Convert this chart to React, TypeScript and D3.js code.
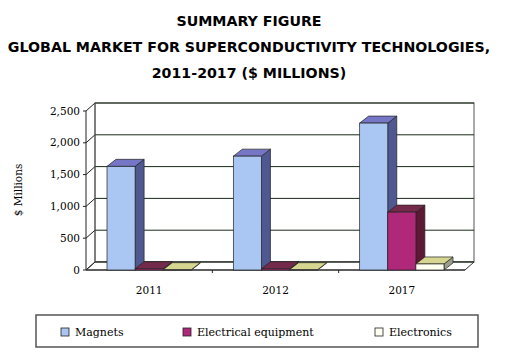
import React from "react";
import * as d3 from "d3";

const categories = ["2011", "2012", "2017"];
const seriesNames = ["Magnets", "Electrical equipment", "Electronics"];
const magnets = [1630, 1790, 2310];
const electrical = [20, 20, 910];
const electronics = [5, 5, 95];
const yTicks = [0, 500, 1000, 1500, 2000, 2500];
const titleLines = [
  "SUMMARY FIGURE",
  "GLOBAL MARKET FOR SUPERCONDUCTIVITY TECHNOLOGIES,",
  "2011-2017 ($ MILLIONS)",
];

const colors = [
  { front: "#aac6f2", top: "#7676c6", side: "#4f5890" },
  { front: "#b0287a", top: "#742a4a", side: "#5e1836" },
  { front: "#fffff2", top: "#d6d690", side: "#9aa08c" },
];

const W = 508;
const H = 364;
const serif = "'DejaVu Serif', serif";

const App: React.FC = () => {
  const values = [magnets, electrical, electronics];
  const x0 = 86;
  const x1 = 465;
  const yBase = 270;
  const wallDx = 9;
  const wallDy = -8;
  const barDx = 9;
  const barDy = -7;

  const x = d3.scaleBand<string>().domain(categories).range([x0, x1]);
  const inner = d3
    .scaleBand<string>()
    .domain(seriesNames)
    .range([21, x.bandwidth() - 21]);
  const y = d3.scaleLinear().domain([0, 2500]).range([yBase, yBase - 159]);
  const fmt = d3.format(",");

  const bars: JSX.Element[] = [];
  categories.forEach((c, ci) => {
    seriesNames.forEach((s, si) => {
      const v = values[si][ci];
      const bx = (x(c) as number) + (inner(s) as number);
      const bw = inner.bandwidth();
      const by = y(v);
      const col = colors[si];
      const stroke = "#222";
      const sw = 0.7;
      bars.push(
        <g key={c + s}>
          <polygon
            points={`${bx + bw},${by} ${bx + bw + barDx},${by + barDy} ${bx + bw + barDx},${yBase + barDy} ${bx + bw},${yBase}`}
            fill={col.side}
            stroke={stroke}
            strokeWidth={sw}
          />
          <polygon
            points={`${bx},${by} ${bx + bw},${by} ${bx + bw + barDx},${by + barDy} ${bx + barDx},${by + barDy}`}
            fill={col.top}
            stroke={stroke}
            strokeWidth={sw}
          />
          <rect
            x={bx}
            y={by}
            width={bw}
            height={Math.max(0, yBase - by)}
            fill={col.front}
            stroke={stroke}
            strokeWidth={sw}
          />
        </g>
      );
    });
  });

  const legendX = [61, 183, 375];

  return (
    <svg
      width={W}
      height={H}
      style={{ position: "absolute", left: 0, top: 0, background: "#fff" }}
    >
      {titleLines.map((t, i) => (
        <text
          key={i}
          x={249}
          y={26 + i * 26}
          textAnchor="middle"
          fontFamily="'DejaVu Sans', Verdana, sans-serif"
          fontWeight="bold"
          fontSize={14.2}
          fill="#000"
        >
          {t}
        </text>
      ))}

      {/* back wall */}
      <rect
        x={x0 + wallDx}
        y={y(2500) + wallDy}
        width={x1 - x0}
        height={y(0) - y(2500)}
        fill="#fff"
        stroke="#555"
        strokeWidth={1}
      />
      {/* floor */}
      <polygon
        points={`${x0},${yBase} ${x1},${yBase} ${x1 + wallDx},${yBase + wallDy} ${x0 + wallDx},${yBase + wallDy}`}
        fill="#fff"
        stroke="#333"
        strokeWidth={1}
      />
      {/* gridlines */}
      {yTicks.map((t) => (
        <g key={t}>
          <line
            x1={x0 + wallDx}
            x2={x1 + wallDx}
            y1={y(t) + wallDy}
            y2={y(t) + wallDy}
            stroke="#1a2a1a"
            strokeWidth={1}
          />
          <line
            x1={x0}
            x2={x0 + wallDx}
            y1={y(t)}
            y2={y(t) + wallDy}
            stroke="#222"
            strokeWidth={1}
          />
          <line x1={x0 - 3} x2={x0} y1={y(t)} y2={y(t)} stroke="#222" />
          <text
            x={x0 - 6}
            y={y(t)}
            dy="0.35em"
            textAnchor="end"
            fontFamily={serif}
            fontSize={10.5}
            fill="#000"
          >
            {fmt(t)}
          </text>
        </g>
      ))}
      {/* left wall edges */}
      <line x1={x0} x2={x0} y1={y(0)} y2={y(2500)} stroke="#222" />
      <line
        x1={x0 + wallDx}
        x2={x0 + wallDx}
        y1={y(0) + wallDy}
        y2={y(2500) + wallDy}
        stroke="#555"
      />
      {/* x axis */}
      <line x1={x0} x2={x1} y1={yBase} y2={yBase} stroke="#222" />
      {categories.map((c, i) => (
        <g key={c}>
          {i > 0 && (
            <line
              x1={x(c)}
              x2={x(c)}
              y1={yBase}
              y2={yBase + 3}
              stroke="#222"
            />
          )}
          <text
            x={(x(c) as number) + x.bandwidth() / 2}
            y={294}
            textAnchor="middle"
            fontFamily={serif}
            fontSize={10.5}
            fill="#000"
          >
            {c}
          </text>
        </g>
      ))}
      {bars}

      <text
        transform="translate(22,190) rotate(-90)"
        textAnchor="middle"
        fontFamily={serif}
        fontSize={10.5}
        fill="#000"
      >
        $ Millions
      </text>

      {/* legend */}
      <rect
        x={36}
        y={315}
        width={442}
        height={32}
        fill="none"
        stroke="#555"
        strokeWidth={1.5}
      />
      {seriesNames.map((s, i) => (
        <g key={s}>
          <rect
            x={legendX[i]}
            y={328}
            width={8}
            height={8}
            fill={colors[i].front}
            stroke="#222"
            strokeWidth={0.8}
          />
          <text
            x={legendX[i] + 14}
            y={336}
            fontFamily={serif}
            fontSize={11}
            fill="#000"
          >
            {s}
          </text>
        </g>
      ))}
    </svg>
  );
};

export default App;
